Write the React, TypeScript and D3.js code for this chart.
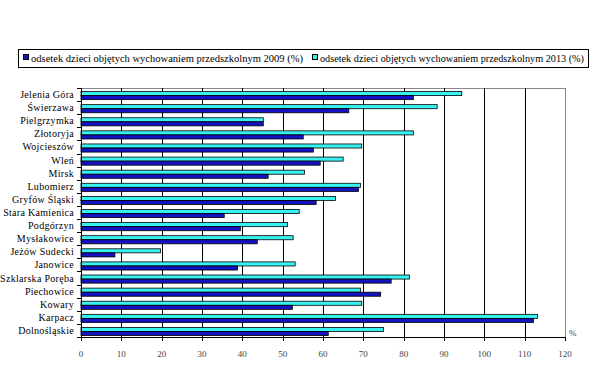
import React from "react";
import * as d3 from "d3";

const categories = [
  "Jelenia Góra",
  "Świerzawa",
  "Pielgrzymka",
  "Złotoryja",
  "Wojcieszów",
  "Wleń",
  "Mirsk",
  "Lubomierz",
  "Gryfów Śląski",
  "Stara Kamienica",
  "Podgórzyn",
  "Mysłakowice",
  "Jeżów Sudecki",
  "Janowice",
  "Szklarska Poręba",
  "Piechowice",
  "Kowary",
  "Karpacz",
  "Dolnośląskie",
];

const values2009 = [82.4, 66.4, 45.2, 55.1, 57.6, 59.3, 46.4, 68.8, 58.3, 35.5, 39.5, 43.7, 8.4, 38.8, 76.9, 74.3, 52.4, 112.2, 61.3];
const values2013 = [94.4, 88.3, 45.2, 82.4, 69.6, 65.0, 55.4, 69.3, 63.1, 54.1, 51.2, 52.6, 19.7, 53.1, 81.4, 69.3, 69.6, 113.2, 75.0];

const seriesNames = [
  "odsetek dzieci objętych wychowaniem przedszkolnym 2009 (%)",
  "odsetek dzieci objętych wychowaniem przedszkolnym 2013 (%)",
];
const xTicks = [0, 10, 20, 30, 40, 50, 60, 70, 80, 90, 100, 110, 120];

const W = 603;
const H = 390;
const left = 81;
const right = 565;
const top = 88;
const bottom = 337;
const blue = "#1212C0";
const cyan = "#38F2F2";
const font = "Liberation Serif, DejaVu Serif, Times New Roman, serif";

export default function App() {
  const x = d3.scaleLinear().domain([0, 120]).range([left, right]);
  const y = d3.scaleBand<string>().domain(categories).range([top, bottom]).padding(0);
  const step = y.step();
  const sub = d3
    .scaleBand<string>()
    .domain(["2013", "2009"])
    .range([step * 0.27, step * 0.89])
    .padding(0);

  const boundaries = d3.range(categories.length + 1).map((i) => top + i * step);
  const tf = { fontFamily: font };

  return (
    <svg
      width={W}
      height={H}
      style={{ position: "absolute", left: 0, top: 0, background: "#fff", fontFamily: font }}
    >
      <rect x={0} y={0} width={W} height={H} fill="#fff" />
      {/* legend */}
      <rect x={18.5} y={49.5} width={570} height={18} fill="#fff" stroke="#000" strokeWidth={1} />
      <rect x={23.5} y={54.5} width={5} height={5} fill={blue} stroke="#000" strokeWidth={1} />
      <text x={31} y={61.5} fontSize={10} fill="#000" style={tf} textLength={272} lengthAdjust="spacingAndGlyphs">
        {seriesNames[0]}
      </text>
      <rect x={312.5} y={54.5} width={5} height={5} fill={cyan} stroke="#000" strokeWidth={1} />
      <text x={320} y={61.5} fontSize={10} fill="#000" style={tf} textLength={264} lengthAdjust="spacingAndGlyphs">
        {seriesNames[1]}
      </text>

      {/* plot frame (top & right gray) */}
      <line x1={left} x2={right + 0.5} y1={top + 0.5} y2={top + 0.5} stroke="#888" />
      <line x1={right + 0.5} x2={right + 0.5} y1={top} y2={bottom} stroke="#888" />

      {/* gridlines */}
      {xTicks
        .filter((t) => t > 0 && t < 120)
        .map((t) => (
          <line
            key={"g" + t}
            x1={Math.round(x(t)) + 0.5}
            x2={Math.round(x(t)) + 0.5}
            y1={top}
            y2={bottom}
            stroke="#000"
          />
        ))}

      {/* bars */}
      {categories.map((c, i) => {
        const y0 = y(c)!;
        return (
          <g key={c}>
            <rect
              x={x(0)}
              y={y0 + sub("2013")!}
              width={x(values2013[i]) - x(0)}
              height={sub.bandwidth()}
              fill={cyan}
              stroke="#000"
              strokeWidth={0.8}
            />
            <rect
              x={x(0)}
              y={y0 + sub("2009")!}
              width={x(values2009[i]) - x(0)}
              height={sub.bandwidth()}
              fill={blue}
              stroke="#000"
              strokeWidth={0.8}
            />
          </g>
        );
      })}

      {/* y axis */}
      <line x1={left + 0.5} x2={left + 0.5} y1={top} y2={bottom + 4} stroke="#000" />
      {boundaries.map((b, i) => (
        <line key={"yt" + i} x1={left - 4} x2={left + 0.5} y1={Math.round(b) + 0.5} y2={Math.round(b) + 0.5} stroke="#000" />
      ))}
      {categories.map((c) => (
        <text
          key={"l" + c}
          x={74}
          y={y(c)! + step / 2 + 3.5}
          fontSize={10}
          textAnchor="end"
          fill="#000"
          style={tf}
          letterSpacing={0.3}
        >
          {c}
        </text>
      ))}

      {/* x axis */}
      <line x1={left} x2={right + 1} y1={bottom + 0.5} y2={bottom + 0.5} stroke="#000" />
      {xTicks.map((t) => (
        <g key={"xt" + t}>
          <line
            x1={Math.round(x(t)) + 0.5}
            x2={Math.round(x(t)) + 0.5}
            y1={bottom}
            y2={bottom + 4}
            stroke="#000"
          />
          <text x={x(t)} y={357} fontSize={9} textAnchor="middle" fill="#444" style={tf}>
            {t}
          </text>
        </g>
      ))}
      <text x={569} y={336} fontSize={9} fill="#444" style={tf}>
        %
      </text>
    </svg>
  );
}
